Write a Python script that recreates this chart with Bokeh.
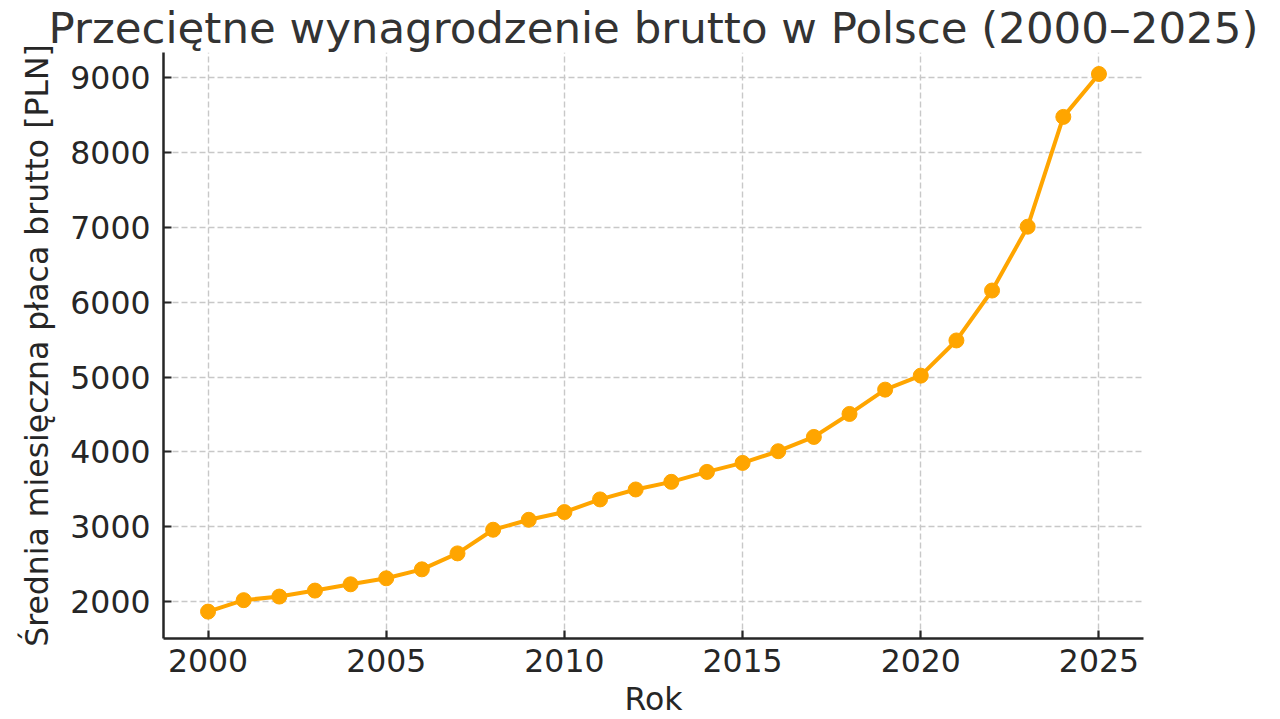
from bokeh.plotting import figure
from bokeh.models import Range1d, FixedTicker, Title
from bokeh.embed import file_html
from bokeh.resources import INLINE

# ---- data ----
years = list(range(2000, 2026))
wages = [1866, 2019, 2067, 2147, 2231, 2311, 2431, 2644, 2960, 3093,
         3196, 3365, 3498, 3600, 3733, 3853, 4009, 4200, 4507, 4832,
         5019, 5489, 6156, 7009, 8476, 9049]
x_ticks = [2000, 2005, 2010, 2015, 2020, 2025]
y_ticks = [2000, 3000, 4000, 5000, 6000, 7000, 8000, 9000]

title_text = "Przeciętne wynagrodzenie brutto w Polsce (2000–2025)"
x_label = "Rok"
y_label = "Średnia miesięczna płaca brutto [PLN]"

FONT = "DejaVu Sans"
TXT = "#262626"
ORANGE = "#FFA500"

xpad = (max(years) - min(years)) * 0.05
yspan = max(wages) - min(wages)

p = figure(width=1280, height=719, output_backend="svg", toolbar_location=None,
           x_range=Range1d(min(years) - xpad, max(years) + xpad),
           y_range=Range1d(min(wages) - yspan * 0.05, max(wages) + yspan * 0.04),
           min_border_left=163, min_border_right=137,
           min_border_top=46, min_border_bottom=81)
p.outline_line_color = None
p.background_fill_color = "white"
p.border_fill_color = "white"

p.add_layout(Title(text=title_text, text_font=FONT, text_font_size="43.5px",
                   text_font_style="normal", text_color="#333333",
                   align="center", standoff=0), "above")

# grid
for g in (p.xgrid, p.ygrid):
    g.grid_line_color = "#c8c8c8"
    g.grid_line_width = 1.4
    g.grid_line_dash = "6 3"
p.xgrid.ticker = FixedTicker(ticks=x_ticks)
p.ygrid.ticker = FixedTicker(ticks=y_ticks)

# axes
p.xaxis.ticker = FixedTicker(ticks=x_ticks)
p.yaxis.ticker = FixedTicker(ticks=y_ticks)
p.xaxis.axis_label = x_label
p.yaxis.axis_label = y_label
for ax in (p.xaxis, p.yaxis):
    ax.axis_line_color = TXT
    ax.axis_line_width = 2.5
    ax.major_tick_line_color = TXT
    ax.major_tick_line_width = 2.2
    ax.major_tick_in = 8
    ax.major_tick_out = 0
    ax.minor_tick_line_color = None
    ax.major_label_text_font = FONT
    ax.major_label_text_font_size = "31.5px"
    ax.major_label_text_color = TXT
    ax.axis_label_text_font = FONT
    ax.axis_label_text_font_size = "31.5px"
    ax.axis_label_text_font_style = "normal"
    ax.axis_label_text_color = TXT
p.xaxis.major_label_standoff = 10
p.yaxis.major_label_standoff = 13
p.xaxis.axis_label_standoff = 6
p.yaxis.axis_label_standoff = 12

# data
p.line(years, wages, line_color=ORANGE, line_width=4)
p.scatter(years, wages, size=15, fill_color=ORANGE, line_color=ORANGE)

open("out.html", "w").write(file_html(p, INLINE))
